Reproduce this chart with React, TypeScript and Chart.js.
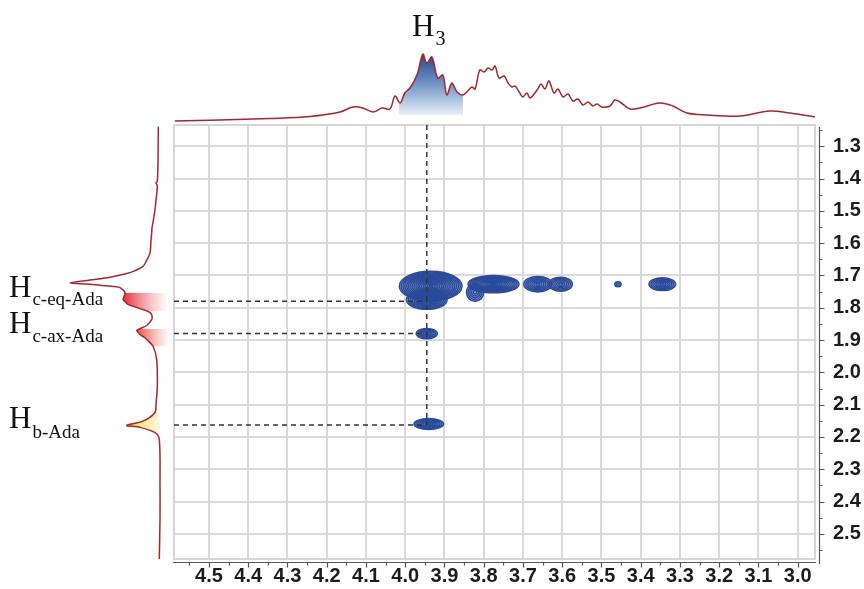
import React, { useEffect, useRef } from 'react';
import { Chart, registerables } from 'chart.js';

Chart.register(...registerables);

// ---- axis ranges (ppm) ----
const X_LEFT = 4.589;
const X_RIGHT = 2.956;
const Y_TOP = 1.234;
const Y_BOTTOM = 2.578;

// ---- F2 projection (top trace): ppm / intensity ----
const topPpm = [4.587, 4.472, 4.345, 4.243, 4.166, 4.133, 4.108, 4.082, 4.059, 4.039, 4.026, 4.013, 4.001, 3.988, 3.970, 3.955, 3.945, 3.932, 3.917, 3.904, 3.894, 3.881, 3.868, 3.853, 3.843, 3.830, 3.822, 3.810, 3.799, 3.789, 3.779, 3.771, 3.761, 3.748, 3.738, 3.728, 3.720, 3.708, 3.700, 3.690, 3.682, 3.664, 3.654, 3.644, 3.634, 3.621, 3.611, 3.598, 3.585, 3.573, 3.560, 3.547, 3.534, 3.522, 3.511, 3.499, 3.478, 3.466, 3.453, 3.427, 3.402, 3.351, 3.318, 3.282, 3.231, 3.147, 3.071, 3.020, 2.956];
const topInt = [1, 2, 3.5, 5.5, 10, 15, 14, 10, 14, 13, 26, 19, 29, 34, 47, 68, 59, 65, 44, 47, 27, 39, 30, 27, 30, 35, 33, 52, 50, 54, 52, 56, 44, 46, 39, 35, 36, 29, 25, 29, 24, 32, 38, 33, 41, 29, 33, 25, 28, 21, 23, 17, 20, 16, 18, 15, 16, 22, 20, 13, 14, 19, 16, 9, 7, 6, 11, 9, 5];

// H3 highlighted region of the top trace
const h3Ppm = [4.016, 4.013, 4.001, 3.988, 3.970, 3.955, 3.945, 3.932, 3.917, 3.904, 3.894, 3.881, 3.868, 3.853];
const h3Int = [21, 19, 29, 34, 47, 68, 59, 65, 44, 47, 27, 39, 30, 27];

// ---- F1 projection (left trace): ppm / intensity ----
const leftPpm = [1.239, 1.342, 1.408, 1.412, 1.422, 1.480, 1.516, 1.551, 1.566, 1.588, 1.628, 1.655, 1.670, 1.683, 1.692, 1.703, 1.712, 1.721, 1.725, 1.728, 1.732, 1.735, 1.751, 1.772, 1.778, 1.787, 1.800, 1.812, 1.822, 1.834, 1.852, 1.862, 1.867, 1.880, 1.886, 1.895, 1.916, 1.957, 2.039, 2.095, 2.120, 2.147, 2.160, 2.166, 2.182, 2.203, 2.347, 2.449, 2.572];
const leftInt = [11.7, 12, 12.7, 14, 12.7, 14.5, 16, 18, 18.3, 19, 20, 24, 27, 35, 43, 60, 80, 100, 80, 70, 55, 50, 45, 47, 45, 42, 30, 20, 18, 18.3, 23.3, 30, 33.3, 30, 27, 23.3, 17, 13.3, 12.7, 14, 15, 27, 43.3, 30, 15, 10.7, 10, 10, 10.7];

// highlighted bands on the left trace
const bandEqPpm = [1.751, 1.772, 1.778, 1.787, 1.800, 1.809];
const bandEqInt = [45, 47, 45, 42, 30, 22];
const bandAxPpm = [1.862, 1.867, 1.880, 1.886, 1.895, 1.916];
const bandAxInt = [30, 33.3, 30, 27, 23.3, 17];
const bandBPpm = [2.120, 2.147, 2.160, 2.166, 2.182];
const bandBInt = [15, 27, 43.3, 30, 15];

// ---- 2D cross peaks: centre (ppm), half widths (ppm) ----
const peakX = [3.935, 3.945, 3.822, 3.775, 3.662, 3.604, 3.458, 3.345, 3.945, 3.940];
const peakY = [1.733, 1.775, 1.752, 1.727, 1.727, 1.727, 1.727, 1.727, 1.880, 2.160];
const peakWx = [0.080, 0.052, 0.022, 0.065, 0.036, 0.030, 0.008, 0.034, 0.027, 0.038];
const peakWy = [0.046, 0.030, 0.028, 0.027, 0.024, 0.022, 0.008, 0.020, 0.016, 0.017];

// ---- correlation guides ----
const guideX = 3.945;
const guideRows = [1.78, 1.88, 2.163];

const isMajor = (v: number) => Math.round(v * 20) % 2 === 0;
const tickLabel = (value: any) => {
  const v = Number(value);
  return isMajor(v) ? (Math.round(v * 20) / 20).toFixed(1) : '';
};
const gridColor = (c: any) => (c.tick && isMajor(c.tick.value) ? '#dadada' : 'rgba(0,0,0,0)');

const AXIS_FONT = { family: "'Liberation Sans', Arial, sans-serif", weight: 'bold' as const, size: 20 };

const framePlugin = {
  id: 'frameAndAxes',
  beforeDatasetsDraw(chart: any) {
    const { ctx, chartArea: a } = chart;
    ctx.save();
    ctx.strokeStyle = '#d6d6d6';
    ctx.lineWidth = 2;
    ctx.strokeRect(a.left, a.top, a.right - a.left, a.bottom - a.top);
    ctx.restore();
  },
  afterDraw(chart: any) {
    const { ctx, chartArea: a, scales } = chart;
    const xs = scales.x;
    const ys = scales.y;
    ctx.save();
    ctx.strokeStyle = '#555';
    ctx.lineWidth = 1.2;
    const ax = a.right + 4.5;
    const ay = a.bottom + 3.5;
    ctx.beginPath();
    ctx.moveTo(ax, a.top + 2);
    ctx.lineTo(ax, a.bottom + 5);
    ctx.moveTo(a.left - 1, ay);
    ctx.lineTo(a.right + 1, ay);
    ys.ticks.forEach((t: any) => {
      const p = Math.round(ys.getPixelForValue(t.value)) + 0.5;
      ctx.moveTo(ax, p);
      ctx.lineTo(ax + (isMajor(t.value) ? 5 : 3), p);
    });
    xs.ticks.forEach((t: any) => {
      const p = Math.round(xs.getPixelForValue(t.value)) + 0.5;
      ctx.moveTo(p, ay);
      ctx.lineTo(p, ay + (isMajor(t.value) ? 5 : 3));
    });
    ctx.stroke();
    ctx.restore();
  },
};

const contourPlugin = {
  id: 'contours',
  beforeDatasetsDraw(chart: any) {
    const idx = chart.data.datasets.findIndex((d: any) => d.id === 'peaks');
    if (idx < 0) return;
    const meta = chart.getDatasetMeta(idx);
    const { ctx, scales } = chart;
    const xs = scales.x;
    const ys = scales.y;
    const a = chart.chartArea;
    ctx.save();
    ctx.beginPath();
    ctx.rect(a.left, a.top, a.right - a.left, a.bottom - a.top);
    ctx.clip();
    const shapes = meta.data.map((pt: any, i: number) => ({
      cx: pt.x,
      cy: pt.y,
      rx: Math.abs(xs.getPixelForValue(peakX[i] - peakWx[i]) - pt.x),
      ry: Math.abs(ys.getPixelForValue(peakY[i] + peakWy[i]) - pt.y),
    }));
    ctx.fillStyle = 'rgba(44,76,156,0.55)';
    shapes.forEach((s: any) => {
      ctx.beginPath();
      ctx.ellipse(s.cx, s.cy, s.rx, s.ry, 0, 0, Math.PI * 2);
      ctx.fill();
    });
    ctx.strokeStyle = '#2a4a9a';
    ctx.lineWidth = 1.4;
    shapes.forEach((s: any) => {
      const n = Math.max(2, Math.round(Math.max(s.rx, s.ry) / 1.9));
      for (let k = 0; k < n; k++) {
        const f = 1 - k / n;
        ctx.beginPath();
        ctx.ellipse(s.cx, s.cy, Math.max(0.5, s.rx * f), Math.max(0.5, s.ry * f), 0, 0, Math.PI * 2);
        ctx.stroke();
      }
    });
    ctx.restore();
  },
};

const traceColor = '#a3282c';

function useChart(ref: React.RefObject<HTMLCanvasElement>, build: () => any) {
  useEffect(() => {
    if (!ref.current) return;
    const chart = new Chart(ref.current, build());
    return () => chart.destroy();
  }, []);
}

export default function App() {
  const mainRef = useRef<HTMLCanvasElement>(null);
  const topRef = useRef<HTMLCanvasElement>(null);
  const leftRef = useRef<HTMLCanvasElement>(null);

  useChart(mainRef, () => {
    const dash = { borderColor: '#333', borderWidth: 1.5, borderDash: [5, 4], pointRadius: 0, showLine: true, fill: false };
    return {
      type: 'scatter',
      data: {
        datasets: [
          { ...dash, data: [{ x: guideX, y: Y_TOP }, { x: guideX, y: guideRows[2] }] },
          ...guideRows.map((r) => ({ ...dash, data: [{ x: X_LEFT, y: r }, { x: guideX, y: r }] })),
          { id: 'peaks', data: peakX.map((x, i) => ({ x, y: peakY[i] })), pointRadius: 0, showLine: false },
        ],
      },
      options: {
        responsive: false,
        animation: false,
        layout: { padding: { left: 174, top: 125, right: 0, bottom: 0 } },
        plugins: { legend: { display: false }, tooltip: { enabled: false } },
        scales: {
          x: {
            type: 'linear', min: X_RIGHT, max: X_LEFT, reverse: true, position: 'bottom',
            afterFit: (s: any) => { s.height = 28; },
            grid: { color: gridColor, lineWidth: 2, drawTicks: false },
            border: { display: false },
            ticks: { stepSize: 0.05, includeBounds: false, autoSkip: false, maxRotation: 0, padding: 5, callback: tickLabel, font: AXIS_FONT, color: '#1c1c1c' },
          },
          y: {
            type: 'linear', min: Y_TOP, max: Y_BOTTOM, reverse: true, position: 'right',
            afterFit: (s: any) => { s.width = 49; },
            grid: { color: gridColor, lineWidth: 2, drawTicks: false },
            border: { display: false },
            ticks: { stepSize: 0.05, includeBounds: false, autoSkip: false, padding: 18, callback: tickLabel, font: AXIS_FONT, color: '#1c1c1c' },
          },
        },
      },
      plugins: [framePlugin, contourPlugin],
    };
  });

  useChart(topRef, () => ({
    type: 'scatter',
    data: {
      datasets: [
        { data: topPpm.map((x, i) => ({ x, y: topInt[i] })), showLine: true, tension: 0.35, pointRadius: 0, borderColor: traceColor, borderWidth: 1.5, fill: false },
        {
          data: h3Ppm.map((x, i) => ({ x, y: h3Int[i] })), showLine: true, tension: 0.35, pointRadius: 0, borderWidth: 0,
          fill: { value: 7 },
          backgroundColor: (c: any) => {
            const g = c.chart.ctx.createLinearGradient(0, 52, 0, 115);
            g.addColorStop(0, '#22418a');
            g.addColorStop(0.5, '#6f93c4');
            g.addColorStop(1, '#e9f1f9');
            return g;
          },
        },
      ],
    },
    options: {
      responsive: false,
      animation: false,
      layout: { padding: { left: 174, right: 49, top: 20, bottom: 3 } },
      plugins: { legend: { display: false }, tooltip: { enabled: false } },
      scales: {
        x: { type: 'linear', min: X_RIGHT, max: X_LEFT, reverse: true, display: false },
        y: { type: 'linear', min: 0, max: 102, display: false },
      },
    },
  }));

  useChart(leftRef, () => {
    const band = (ppm: number[], ints: number[], to: number, c0: string, c1: string, x0: number, x1: number) => ({
      data: ppm.map((y, i) => ({ x: ints[i], y })), showLine: true, tension: 0.3, pointRadius: 0, borderWidth: 0,
      fill: { value: to },
      backgroundColor: (c: any) => {
        const g = c.chart.ctx.createLinearGradient(x0, 0, x1, 0);
        g.addColorStop(0, c0);
        g.addColorStop(1, c1);
        return g;
      },
    });
    return {
      type: 'scatter',
      data: {
        datasets: [
          { data: leftPpm.map((y, i) => ({ x: leftInt[i], y })), showLine: true, tension: 0.3, pointRadius: 0, borderColor: traceColor, borderWidth: 1.5, fill: false },
          band(bandEqPpm, bandEqInt, 3, 'rgba(226,40,50,1)', 'rgba(240,120,120,0)', 122, 168),
          band(bandAxPpm, bandAxInt, 2, 'rgba(232,70,60,1)', 'rgba(245,140,120,0)', 136, 170),
          band(bandBPpm, bandBInt, 10, 'rgba(246,210,30,1)', 'rgba(252,245,200,0.6)', 126, 160),
        ],
      },
      options: {
        responsive: false,
        animation: false,
        indexAxis: 'y',
        layout: { padding: { left: 60, right: 4, top: 125, bottom: 28 } },
        plugins: { legend: { display: false }, tooltip: { enabled: false } },
        scales: {
          x: { type: 'linear', min: 0, max: 110, reverse: true, display: false },
          y: { type: 'linear', min: Y_TOP, max: Y_BOTTOM, reverse: true, display: false },
        },
      },
    };
  });

  const serif = "'Liberation Serif', 'DejaVu Serif', serif";
  const label = (left: number, top: number, main: string, sub: string, subSize: number, drop: number) => (
    <div style={{ position: 'absolute', left, top, fontFamily: serif, fontSize: 31, lineHeight: '31px', color: '#111', whiteSpace: 'nowrap' }}>
      {main}
      <span style={{ fontSize: subSize, position: 'relative', top: drop, marginLeft: 1 }}>{sub}</span>
    </div>
  );

  return (
    <div style={{ position: 'absolute', left: 0, top: 0, width: 864, height: 589, background: '#fff', overflow: 'hidden' }}>
      <canvas ref={mainRef} width={864} height={589} style={{ position: 'absolute', left: 0, top: 0, width: 864, height: 589 }} />
      <canvas ref={topRef} width={864} height={125} style={{ position: 'absolute', left: 0, top: 0, width: 864, height: 125 }} />
      <canvas ref={leftRef} width={174} height={589} style={{ position: 'absolute', left: 0, top: 0, width: 174, height: 589 }} />
      {label(412, 10, 'H', '3', 20, 9)}
      {label(9, 271, 'H', 'c-eq-Ada', 19, 8)}
      {label(9, 307, 'H', 'c-ax-Ada', 19, 9)}
      {label(9, 402, 'H', 'b-Ada', 19, 10)}
    </div>
  );
}
